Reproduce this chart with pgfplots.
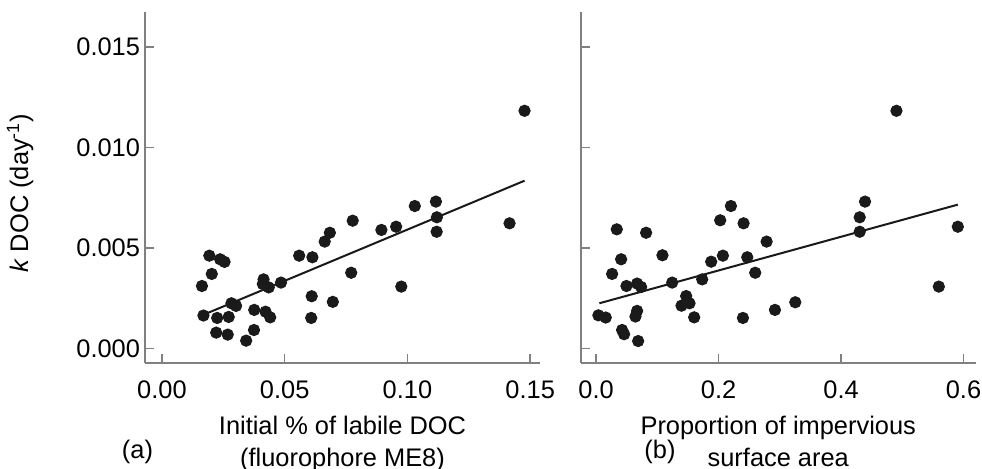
\documentclass[border=0pt]{standalone}
\usepackage{fontspec}
\setmainfont{Liberation Sans}
\usepackage{pgfplots}
\pgfplotsset{compat=1.18}

\definecolor{axgray}{HTML}{808080}
\definecolor{dot}{HTML}{1A1A1A}

\pgfplotsset{
  kdoc/.style={
    scale only axis, width=158bp, height=140.4bp,
    axis x line*=bottom, axis y line*=left,
    axis line style={axgray, line width=0.6bp, -},
    tick style={axgray, line width=0.6bp},
    tick align=inside, major tick length=3.5bp,
    ymin=-0.00072, ymax=0.01675,
    ytick={0,0.005,0.010,0.015},
    scaled ticks=false,
    /pgf/number format/assume math mode=true,
    tick label style={font=\fontsize{10.2}{12}\selectfont, inner sep=0pt},
    yticklabel style={xshift=-1.8bp},
    xticklabel style={yshift=-6.9bp},
    yticklabel style={/pgf/number format/.cd, fixed, fixed zerofill, precision=3},
    clip=false,
  },
  fit/.style={black!90, line width=0.8bp, forget plot},
  pts/.style={only marks, mark=*, mark size=2.25bp, mark options={draw=dot, fill=dot}},
}

\begin{document}
\begin{tikzpicture}
\path[use as bounding box] (-58bp,-42.5bp) rectangle (334.8bp,145.1bp);
\begin{axis}[kdoc, name=left,
  xmin=-0.0069, xmax=0.154,
  xtick={0,0.05,0.10,0.15},
  xticklabel style={/pgf/number format/.cd, fixed, fixed zerofill, precision=2},
  ylabel={\fontsize{10.2}{12}\selectfont\textit{k} DOC (day\textsuperscript{-1})},
  ylabel style={at={([xshift=-46.7bp]axis description cs:0,0.483)}, anchor=base, rotate=0},
]
\addplot[fit] coordinates {(0.0183,0.00174) (0.1477,0.00834)};
\addplot[pts] coordinates {
(0.1477,0.01182) (0.1416,0.00622) (0.1116,0.00730) (0.1120,0.00652)
(0.1119,0.00580) (0.1030,0.00708) (0.0954,0.00605) (0.0894,0.00589)
(0.0975,0.00307) (0.0777,0.00635) (0.0771,0.00376) (0.0684,0.00575)
(0.0663,0.00531) (0.0696,0.00231) (0.0559,0.00461) (0.0613,0.00453)
(0.0610,0.00259) (0.0608,0.00151) (0.0485,0.00327) (0.0414,0.00343)
(0.0411,0.00320) (0.0435,0.00303) (0.0376,0.00191) (0.0422,0.00182)
(0.0441,0.00154) (0.0375,0.00091) (0.0343,0.00038) (0.0302,0.00211)
(0.0283,0.00224) (0.0272,0.00156) (0.0268,0.00068) (0.0221,0.00078)
(0.0225,0.00151) (0.0169,0.00163) (0.0163,0.00310) (0.0203,0.00370)
(0.0193,0.00461) (0.0237,0.00443) (0.0255,0.00430)
};
\node[anchor=base, font=\fontsize{10.2}{12}\selectfont] at ([yshift=-28.5bp]rel axis cs:0.5,0) {Initial \% of labile DOC};
\node[anchor=base, font=\fontsize{10.2}{12}\selectfont] at ([yshift=-41.3bp]rel axis cs:0.5,0) {(fluorophore ME8)};
\node[anchor=base, font=\fontsize{10.2}{12}\selectfont] at ([xshift=-3bp, yshift=-38.1bp]rel axis cs:0,0) {(a)};
\end{axis}
\begin{axis}[kdoc, name=right, at={(174.3bp,0)}, anchor=south west,
  xmin=-0.025, xmax=0.620,
  xtick={0,0.2,0.4,0.6},
  xticklabel style={/pgf/number format/.cd, fixed, fixed zerofill, precision=1},
  yticklabels={},
]
\addplot[fit] coordinates {(0.0054,0.00224) (0.5907,0.00715)};
\addplot[pts] coordinates {
(0.4905,0.01182) (0.5907,0.00605) (0.5597,0.00307) (0.4392,0.00730)
(0.4305,0.00652) (0.4305,0.00580) (0.3253,0.00229) (0.2921,0.00191)
(0.2785,0.00531) (0.2599,0.00376) (0.2469,0.00453) (0.2409,0.00622)
(0.2398,0.00151) (0.2202,0.00708) (0.2027,0.00637) (0.2071,0.00461)
(0.1880,0.00431) (0.1733,0.00343) (0.1602,0.00154) (0.1471,0.00260)
(0.1526,0.00224) (0.1395,0.00212) (0.1243,0.00327) (0.1084,0.00463)
(0.0817,0.00575) (0.0338,0.00592) (0.0409,0.00443) (0.0262,0.00370)
(0.0496,0.00310) (0.0670,0.00322) (0.0736,0.00305) (0.0670,0.00186)
(0.0643,0.00158) (0.0425,0.00091) (0.0458,0.00070) (0.0687,0.00036)
(0.0038,0.00164) (0.0158,0.00153)
};
\node[anchor=base, font=\fontsize{10.2}{12}\selectfont] at ([yshift=-28.5bp]rel axis cs:0.5,0) {Proportion of impervious};
\node[anchor=base, font=\fontsize{10.2}{12}\selectfont] at ([yshift=-41.3bp]rel axis cs:0.5,0) {surface area};
\node[anchor=base, font=\fontsize{10.2}{12}\selectfont] at ([xshift=31.7bp, yshift=-38.1bp]rel axis cs:0,0) {(b)};
\end{axis}
\end{tikzpicture}
\end{document}
